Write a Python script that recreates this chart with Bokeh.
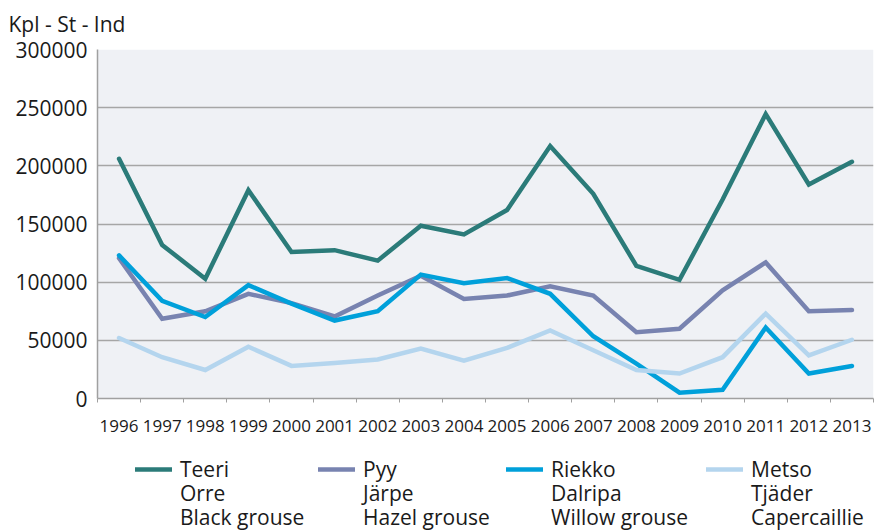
from bokeh.plotting import figure
from bokeh.layouts import column
from bokeh.models import (Range1d, FixedTicker, BasicTickFormatter, Legend, LegendItem,
                          BoxAnnotation)
from bokeh.embed import file_html
from bokeh.resources import INLINE

years = list(range(1996, 2014))
teeri = [206000, 132000, 103000, 179000, 126000, 127500, 118500, 148500, 141000, 162000,
         217000, 176000, 114000, 102000, 171000, 244500, 184000, 203500]
pyy = [120500, 68500, 75000, 90000, 82000, 70500, 88500, 105500, 85500, 88500,
       96500, 88500, 57000, 60000, 93000, 117000, 75000, 76000]
riekko = [123000, 84000, 70000, 97500, 81500, 67000, 75000, 106500, 99000, 103500,
          90000, 53500, 30000, 5000, 7500, 61000, 21500, 28000]
metso = [52000, 35500, 24500, 44500, 28000, 30500, 33500, 43000, 32500, 43500,
         58500, 41500, 24500, 21500, 35500, 73000, 37000, 50500]

series_labels = [["Teeri", "Orre", "Black grouse"],
                 ["Pyy", "Järpe", "Hazel grouse"],
                 ["Riekko", "Dalripa", "Willow grouse"],
                 ["Metso", "Tjäder", "Capercaillie"]]
colors = ["#2b7b79", "#7883b0", "#00a0da", "#b4d5ee"]
y_ticks = [0, 50000, 100000, 150000, 200000, 250000, 300000]
y_title = "Kpl - St - Ind"

FONT = "Open Sans"
TXT = "#1a1a1a"
W = 875
H_MAIN = 446
H_LEG = 86

p = figure(width=W, height=H_MAIN, output_backend="svg", toolbar_location=None,
           x_range=Range1d(1995.5, 2013.5), y_range=Range1d(0, 300000),
           min_border_left=97, min_border_right=2, min_border_top=47,
           min_border_bottom=48, title=y_title)
p.background_fill_color = "white"
p.border_fill_color = "white"
p.outline_line_color = None
p.title.text_font = FONT
p.title.text_font_size = "21px"
p.title.text_font_style = "normal"
p.title.text_color = TXT
p.title.align = "left"
p.title.vertical_align = "top"
p.title.offset = -89
p.title.standoff = 19

p.add_layout(BoxAnnotation(fill_color="#eff1f5", fill_alpha=1.0, line_color=None, level="image"))

series = [teeri, pyy, riekko, metso]
renderers = []
for vals, c in zip(series, colors):
    r = p.line(years, vals, line_color=c, line_width=4.5, line_join="miter", line_cap="round")
    renderers.append(r)

# x axis
p.xaxis.ticker = FixedTicker(ticks=years, minor_ticks=[y - 0.5 for y in years] + [2013.5])
p.xaxis.major_tick_line_color = None
p.xaxis.major_tick_out = 0
p.xaxis.major_tick_in = 0
p.xaxis.minor_tick_line_color = "#a0a0a0"
p.xaxis.minor_tick_out = 4
p.xaxis.minor_tick_in = 0
p.xaxis.axis_line_color = "#a0a0a0"
p.xaxis.axis_line_width = 1.5
p.xaxis.major_label_text_font = FONT
p.xaxis.major_label_text_font_size = "17px"
p.xaxis.major_label_text_color = TXT
p.xaxis.major_label_standoff = 17
p.xaxis.formatter = BasicTickFormatter(use_scientific=False)
p.xgrid.grid_line_color = None

# y axis
p.yaxis.ticker = FixedTicker(ticks=y_ticks)
p.yaxis.formatter = BasicTickFormatter(use_scientific=False)
p.yaxis.major_tick_line_color = None
p.yaxis.major_tick_out = 0
p.yaxis.major_tick_in = 0
p.yaxis.minor_tick_line_color = None
p.yaxis.axis_line_color = "#a0a0a0"
p.yaxis.axis_line_width = 1.5
p.yaxis.major_label_text_font = FONT
p.yaxis.major_label_text_font_size = "21px"
p.yaxis.major_label_text_color = TXT
p.yaxis.major_label_standoff = 10
p.ygrid.ticker = FixedTicker(ticks=y_ticks)
p.ygrid.grid_line_color = "#a6a6a6"
p.ygrid.grid_line_width = 1.5

# legend figure (frame is aligned with the main plot's frame)
lf = figure(width=W, height=H_LEG, output_backend="svg", toolbar_location=None,
            x_range=Range1d(0, 1), y_range=Range1d(0, 1),
            x_axis_location=None, y_axis_location=None,
            min_border_left=97, min_border_right=2, min_border_top=0, min_border_bottom=0)
lf.grid.visible = False
lf.outline_line_color = None
lf.background_fill_color = "white"
lf.border_fill_color = "white"

# legend-only renderers: same series, lying outside this figure's visible range
blank = lf.line(years, teeri, line_alpha=0)
leg_renderers = [lf.line(years, vals, line_color=c, line_width=4.5, line_cap="round")
                 for vals, c in zip(series, colors)]

legend_x = [38, 221, 409, 609]
legend_row_y = [49, 25, 1]
for lines, r, lx in zip(series_labels, leg_renderers, legend_x):
    for k, (t, ly) in enumerate(zip(lines, legend_row_y)):
        lg = Legend(items=[LegendItem(label=t, renderers=[r if k == 0 else blank])],
                    orientation="vertical", location=(lx, ly))
        lg.label_text_font = FONT
        lg.label_text_font_size = "21px"
        lg.label_text_color = TXT
        lg.label_text_baseline = "middle"
        lg.glyph_width = 37
        lg.glyph_height = 20
        lg.label_height = 20
        lg.label_standoff = 8
        lg.padding = 0
        lg.margin = 0
        lg.border_line_color = None
        lg.background_fill_alpha = 0
        lf.add_layout(lg)

open("out.html", "w").write(file_html(column(p, lf, spacing=0), INLINE))
